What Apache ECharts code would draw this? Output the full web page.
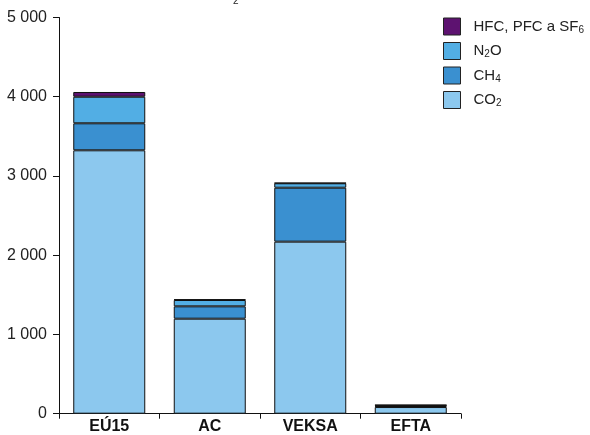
<!DOCTYPE html>
<html><head><meta charset="utf-8">
<script src="https://cdn.jsdelivr.net/npm/echarts@6/dist/echarts.min.js"></script>
<style>html,body{margin:0;padding:0;background:#fff}#c{width:590px;height:435px}</style>
</head><body><div id="c"></div>
<script>
const categories = ['EÚ15', 'AC', 'VEKSA', 'EFTA'];
const co2 = [3324, 1199, 2171, 84];
const ch4 = [341, 156, 681, 12];
const n2o = [335, 80, 56, 10];
const hfc = [60, 8, 5, 5];
const yTicks = [0, 1000, 2000, 3000, 4000, 5000];

const chart = echarts.init(document.getElementById('c'));
const font = '"Liberation Sans", Arial, sans-serif';
const border = {borderColor: '#111', borderWidth: 1};
function s(name, data, color) {
  return {name, type: 'bar', stack: 't', data, barWidth: 72,
    itemStyle: Object.assign({color}, border), emphasis: {disabled: true}};
}
const sub = {fontSize: 10, lineHeight: 17, verticalAlign: 'bottom', padding: [8, 0, 0, 0], fontFamily: font, color: '#222'};
chart.setOption({
  animation: false,
  grid: {left: 59, right: 129, top: 17.5, bottom: 21.3, containLabel: false},
  legend: {
    orient: 'vertical', left: 443, top: 17, itemWidth: 17, itemHeight: 17, itemGap: 6,
    padding: 0,
    icon: 'rect',
    data: ['HFC', 'N2O', 'CH4', 'CO2'],
    itemStyle: {borderColor: '#222', borderWidth: 1},
    textStyle: {fontFamily: font, fontSize: 15, lineHeight: 17, color: '#222', padding: [0, 0, 0, 8], rich: {s: sub}},
    formatter: function (n) {
      if (n === 'HFC') return 'HFC, PFC a SF{s|6}';
      if (n === 'N2O') return 'N{s|2}O';
      if (n === 'CH4') return 'CH{s|4}';
      return 'CO{s|2}';
    }
  },
  xAxis: {
    type: 'category', data: categories,
    axisLine: {lineStyle: {color: '#111', width: 1}},
    axisTick: {show: true, length: 5, lineStyle: {color: '#111'}},
    axisLabel: {fontFamily: font, fontWeight: 'bold', fontSize: 16, color: '#111', margin: 5}
  },
  yAxis: {
    type: 'value', min: 0, max: 5000, interval: 1000,
    splitLine: {show: false},
    axisLine: {show: true, lineStyle: {color: '#111', width: 1}},
    axisTick: {show: true, length: 6, lineStyle: {color: '#111'}},
    axisLabel: {fontFamily: font, fontSize: 16, color: '#222', margin: 12,
      formatter: v => yTicks.includes(v) ? String(v).replace(/\B(?=(\d{3})+(?!\d))/g, ' ') : ''}
  },
  graphic: [{type: 'text', left: 233, top: -4, style: {text: '2', fontSize: 10, fontFamily: font, fill: '#222'}}],
  series: [
    s('CO2', co2, '#8cc8ee'),
    s('CH4', ch4, '#3a90d0'),
    s('N2O', n2o, '#52aee4'),
    s('HFC', hfc, '#5d1270')
  ]
});
</script></body></html>
